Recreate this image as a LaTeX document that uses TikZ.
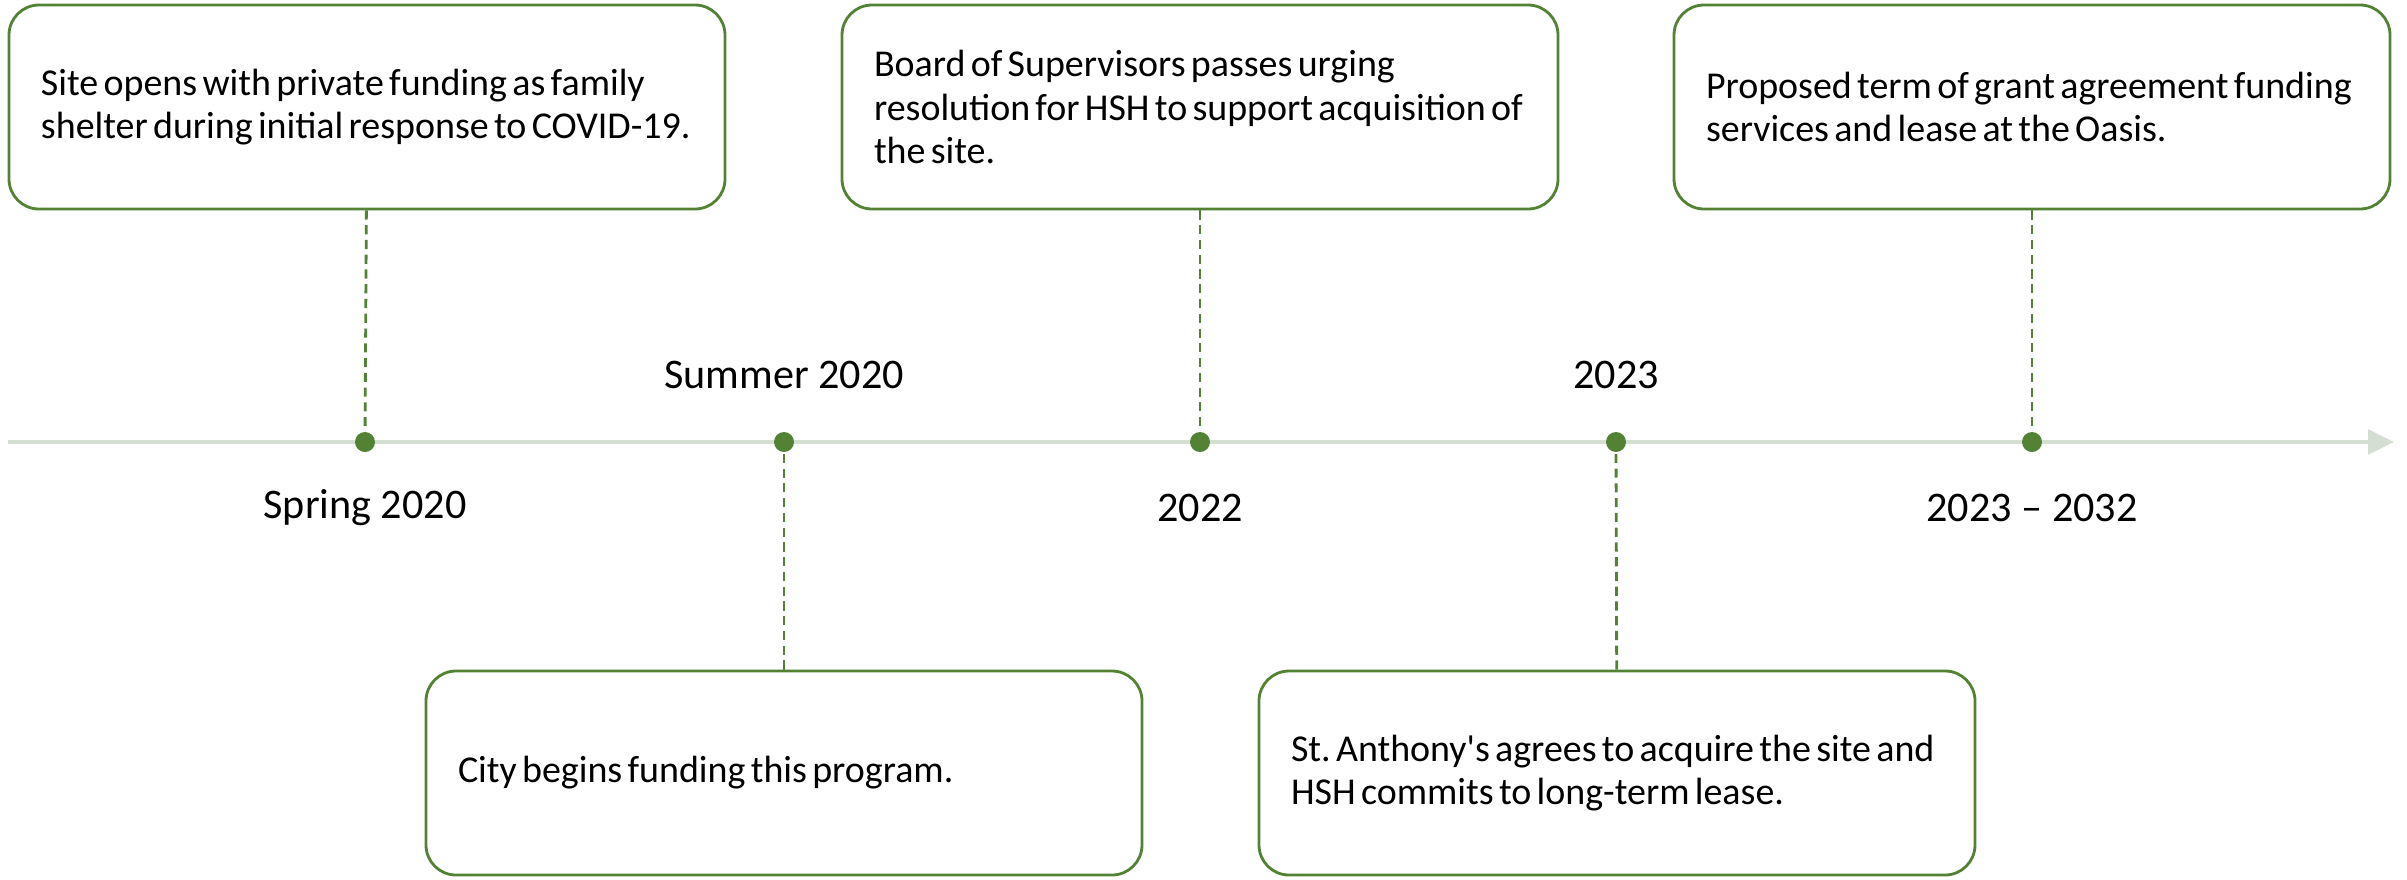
\documentclass[tikz,border=0pt]{standalone}
\usepackage{fontspec}
\setmainfont{Carlito}
\newfontfamily\eventfont{Carlito}[WordSpace=0.62]
\usetikzlibrary{arrows.meta}
\definecolor{eventgreen}{RGB}{84,130,53}
\definecolor{axisgreen}{RGB}{213,222,210}

\begin{document}
\begin{tikzpicture}[
  event/.style={draw=eventgreen, line width=0.8pt, rounded corners=0.3cm, minimum width=7.16cm, minimum height=2.04cm, text width=6.52cm, inner xsep=0.32cm, align=flush left, font=\eventfont\fontsize{10.8}{12.3}\selectfont\frenchspacing},
  year/.style={font=\fontsize{12}{14}\selectfont},
  dot/.style={circle, fill=eventgreen, inner sep=0pt, minimum size=0.2cm},
  link/.style={eventgreen, line width=0.8pt, dash pattern=on 2.6pt off 1.6pt}]

\useasboundingbox (0,0) rectangle (24.07,8.79);

% Time axis with arrow
\coordinate (start) at (0.08,4.37);
\coordinate (end) at (23.94,4.37);
\draw[axisgreen, line width=0.9pt, -{Triangle[length=0.26cm, width=0.25cm]}] (start) -- (end);

% Milestones on the axis
\node[dot] (d1) at (3.65,4.37) {};
\node[dot] (d2) at (7.84,4.37) {};
\node[dot] (d3) at (12.00,4.37) {};
\node[dot] (d4) at (16.16,4.37) {};
\node[dot] (d5) at (20.32,4.37) {};

% Dates
\node[year] (y1) at (3.65,3.71) {Spring 2020};
\node[year] (y2) at (7.84,5.04) {Summer 2020};
\node[year] (y3) at (12.00,3.71) {2022};
\node[year] (y4) at (16.16,5.04) {2023};
\node[year] (y5) at (20.32,3.71) {2023 -- 2032};

% Event boxes
\node[event] (b1) at (3.67,7.72) {Site opens with private funding as family\\ shelter during initial response to COVID-19.};
\node[event] (b2) at (7.84,1.06) {City begins funding this program.};
\node[event] (b3) at (12.00,7.72) {Board of Supervisors passes urging\\ resolution for HSH to support acquisition of\\ the site.};
\node[event] (b4) at (16.17,1.06) {St. Anthony\textquotesingle s agrees to acquire the site and\\ HSH commits to long-term lease.};
\node[event] (b5) at (20.32,7.72) {Proposed term of grant agreement funding\\ services and lease at the Oasis.};

% Dashed links from boxes to milestones
\draw[link] (b1) -- (d1);
\draw[link] (b2) -- (d2);
\draw[link] (b3) -- (d3);
\draw[link] (b4) -- (d4);
\draw[link] (b5) -- (d5);

\end{tikzpicture}
\end{document}
